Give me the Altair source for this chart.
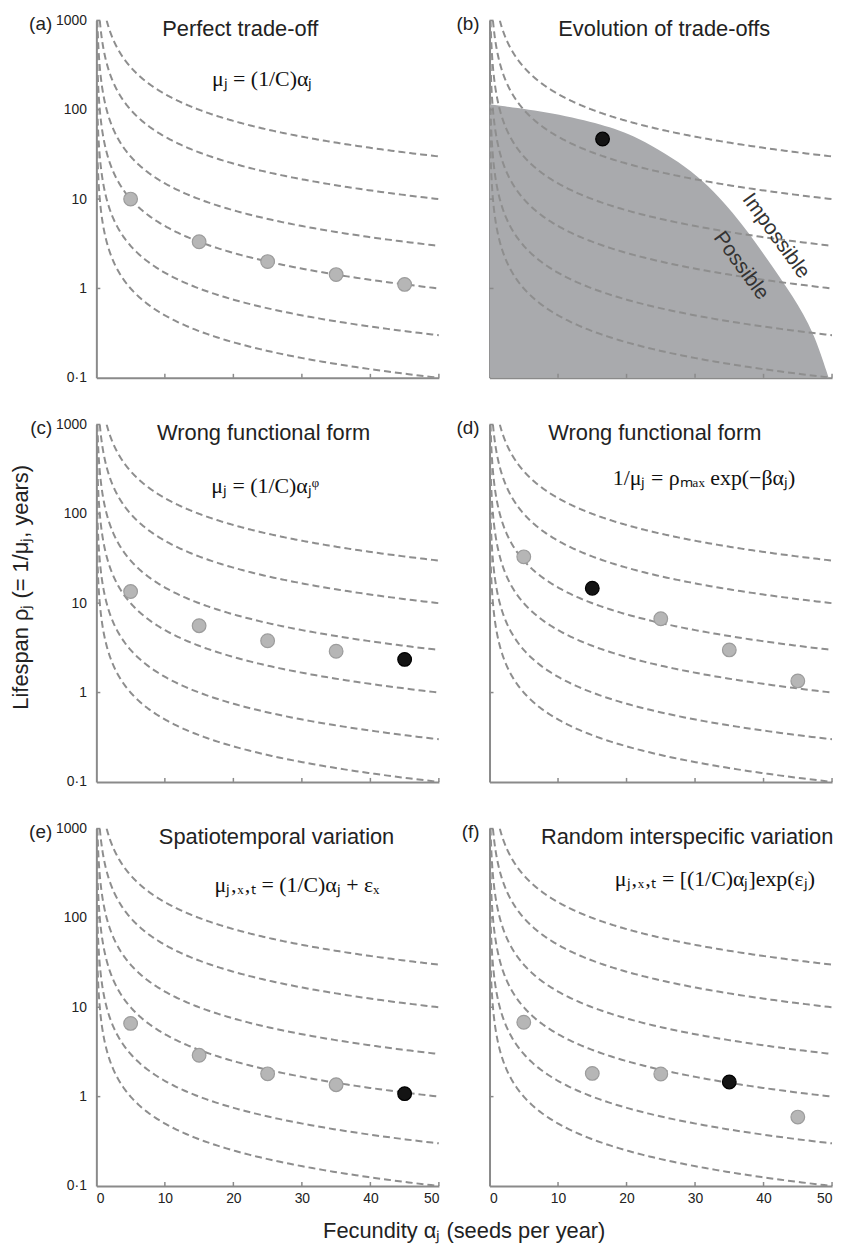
import numpy as np
import pandas as pd
import altair as alt

# ---------------- data ----------------
# iso-fitness curves rho = C / alpha, one per constant C
C_VALUES = [5, 15, 50, 150, 500, 1500]
X_MAX = 50

SPECIES_X = [5, 15, 25, 35, 45]
PANEL_Y = {
    "a": [10.0, 3.33, 2.0, 1.43, 1.11],
    "c": [13.5, 5.6, 3.8, 2.9, 2.35],
    "d": [33.0, 14.7, 6.7, 3.0, 1.35],
    "e": [6.6, 2.9, 1.8, 1.36, 1.08],
    "f": [6.8, 1.82, 1.79, 1.46, 0.59],
}
PANEL_BLACK = {"a": None, "c": 4, "d": 1, "e": 4, "f": 3}

# panel (b): single species and the possible/impossible frontier
B_X = [16.5]
B_Y = [47.0]
FRONT_X = [0, 9.6, 16.5, 21.2, 29.9, 35.7, 40.1, 44.4, 47.3, 49.5]
FRONT_Y = [115, 92, 68, 52, 21, 7.0, 2.4, 0.8, 0.33, 0.1]

LETTERS = ["a", "b", "c", "d", "e", "f"]
TITLES = {
    "a": "Perfect trade-off",
    "b": "Evolution of trade-offs",
    "c": "Wrong functional form",
    "d": "Wrong functional form",
    "e": "Spatiotemporal variation",
    "f": "Random interspecific variation",
}
FORMULAS = {
    "a": "μⱼ = (1/C)αⱼ",
    "c": "μⱼ = (1/C)αⱼᵠ",
    "d": "1/μⱼ = ρₘₐₓ exp(−βαⱼ)",
    "e": "μⱼ‚ₓ‚ₜ = (1/C)αⱼ + εₓ",
    "f": "μⱼ‚ₓ‚ₜ = [(1/C)αⱼ]exp(εⱼ)",
}
Y_TICKS = [0.1, 1, 10, 100, 1000]
X_TICKS = [0, 10, 20, 30, 40, 50]
Y_TITLE = "Lifespan ρⱼ (= 1/μⱼ, years)"
X_TITLE = "Fecundity αⱼ (seeds per year)"

# ---------------- layout / style ----------------
W, H = 345, 360
AXIS_COLOR = "#8a8a8a"
CURVE_COLOR = "#8e8e8e"
SANS = "Liberation Sans"
SERIF = "Liberation Serif"

TITLE_X = {"a": 145, "b": 176, "c": 168.5, "d": 166.5, "e": 181.5, "f": 199}
FORM_POS = {"a": (167, 66), "c": (170, 69), "d": (216, 61), "e": (202, 64), "f": (227, 58)}

# curve table (theoretical isoclines)
rows = []
for C in C_VALUES:
    xs = np.geomspace(C / 1000.0, X_MAX, 400)
    for xv in xs:
        rows.append({"C": C, "x": float(xv), "y": C / float(xv)})
curves_df = pd.DataFrame(rows)

xscale = alt.Scale(domain=[0, 50], nice=False, zero=False)
yscale = alt.Scale(type="log", domain=[0.1, 1000], nice=False)


def make_axes(letter):
    show_x = letter in ("e", "f")
    show_y = letter in ("a", "c", "e")
    xa = alt.Axis(values=X_TICKS, labels=show_x, ticks=False, grid=False, title=None,
                  domainColor=AXIS_COLOR, domainWidth=2, labelFontSize=14,
                  labelColor="#222", labelFont=SANS, labelPadding=6)
    ya = alt.Axis(values=Y_TICKS, labels=show_y, ticks=False, grid=False, title=None,
                  domainColor=AXIS_COLOR, domainWidth=2, labelFontSize=14,
                  labelColor="#222", labelFont=SANS, labelPadding=10,
                  labelExpr="datum.value < 0.5 ? '0·1' : format(datum.value, 'd')")
    return xa, ya


def text_layer(txt, x, y, size, font=SANS, align="center", baseline="alphabetic",
               color="#222", angle=0):
    return alt.Chart(pd.DataFrame({"t": [txt]})).mark_text(
        font=font, fontSize=size, align=align, baseline=baseline, color=color,
        angle=angle
    ).encode(text="t:N", x=alt.value(x), y=alt.value(y))


def make_panel(letter):
    xa, ya = make_axes(letter)
    layers = []

    if letter == "b":
        fdf = pd.DataFrame({"x": FRONT_X, "y": FRONT_Y, "y0": [0.1] * len(FRONT_X)})
        layers.append(
            alt.Chart(fdf).mark_area(color="#a9aaad", opacity=1, interpolate="basis", clip=True)
            .encode(x=alt.X("x:Q", scale=xscale, axis=xa),
                    y=alt.Y("y:Q", scale=yscale, axis=ya),
                    y2="y0:Q")
        )

    layers.append(
        alt.Chart(curves_df).mark_line(color=CURVE_COLOR, strokeWidth=2, strokeDash=[7, 4], clip=True)
        .encode(x=alt.X("x:Q", scale=xscale, axis=xa),
                y=alt.Y("y:Q", scale=yscale, axis=ya),
                detail="C:N")
    )

    # inward tick marks
    layers.append(
        alt.Chart(pd.DataFrame({"v": Y_TICKS[1:]})).mark_rule(color=AXIS_COLOR, strokeWidth=1.5)
        .encode(y=alt.Y("v:Q", scale=yscale, axis=ya), x=alt.value(0), x2=alt.value(4))
    )
    layers.append(
        alt.Chart(pd.DataFrame({"v": X_TICKS[1:]})).mark_rule(color=AXIS_COLOR, strokeWidth=1.5)
        .encode(x=alt.X("v:Q", scale=xscale, axis=xa), y=alt.value(H), y2=alt.value(H - 4))
    )

    # species points
    if letter == "b":
        pdf = pd.DataFrame({"x": B_X, "y": B_Y, "kind": ["black"]})
    else:
        ys = PANEL_Y[letter]
        kinds = ["black" if PANEL_BLACK[letter] == i else "grey" for i in range(len(ys))]
        pdf = pd.DataFrame({"x": SPECIES_X, "y": ys, "kind": kinds})
    layers.append(
        alt.Chart(pdf).mark_circle(size=190, opacity=1, strokeWidth=1.2)
        .encode(x=alt.X("x:Q", scale=xscale, axis=xa),
                y=alt.Y("y:Q", scale=yscale, axis=ya),
                fill=alt.Fill("kind:N", scale=alt.Scale(domain=["grey", "black"],
                                                        range=["#b6b6b6", "#141414"]), legend=None),
                stroke=alt.Stroke("kind:N", scale=alt.Scale(domain=["grey", "black"],
                                                            range=["#9c9c9c", "#000000"]), legend=None))
    )

    if letter == "b":
        ldf = pd.DataFrame({"x": [41.8, 36.7], "y": [3.86, 1.79], "t": ["Impossible", "Possible"]})
        layers.append(
            alt.Chart(ldf).mark_text(font=SANS, fontSize=21, angle=54, color="#333",
                                     align="center", baseline="middle")
            .encode(x=alt.X("x:Q", scale=xscale, axis=xa),
                    y=alt.Y("y:Q", scale=yscale, axis=ya), text="t:N")
        )

    # panel title, formula, letter
    layers.append(text_layer(TITLES[letter], TITLE_X[letter], 16, 22))
    if letter in FORMULAS:
        fx, fy = FORM_POS[letter]
        layers.append(text_layer(FORMULAS[letter], fx, fy, 22, font=SERIF, color="#111"))
    lx = -44.5 if letter in ("a", "c", "e") else -10
    layers.append(text_layer(f"({letter})", lx, 10, 19, align="right"))

    if letter == "c":
        layers.append(text_layer(Y_TITLE, -75.5, 164, 22, baseline="middle", angle=270))
    if letter == "e":
        layers.append(text_layer(X_TITLE, W + 25.5, H + 45, 22, baseline="middle"))

    return alt.layer(*layers).properties(width=W, height=H)


panels = [make_panel(l) for l in LETTERS]

chart = alt.concat(*panels, columns=2, spacing={"row": 47, "column": 51}, bounds="flush").properties(
    padding={"left": 2, "top": 1, "right": 5, "bottom": 5}
).configure_view(strokeWidth=0)

chart.save("out.html", embed_options={"renderer": "svg", "actions": False})
